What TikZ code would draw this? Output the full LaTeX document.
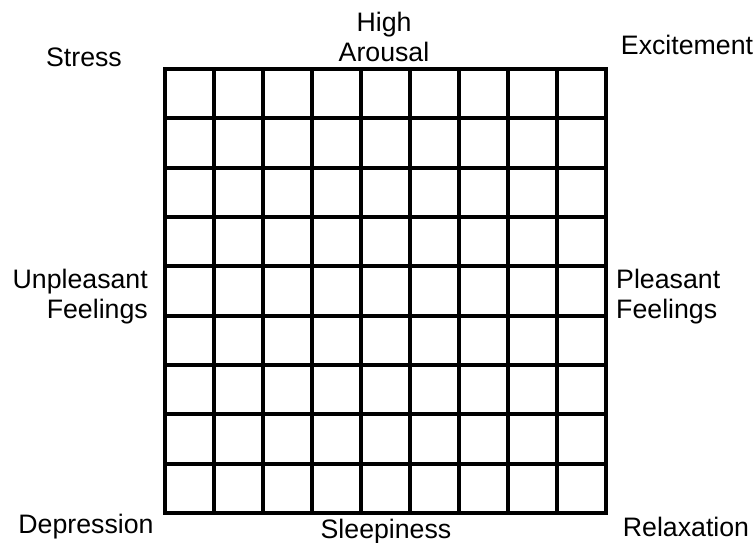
\documentclass[tikz,border=0pt]{standalone}
\usepackage{fontspec}
\setmainfont{Liberation Sans}
\usetikzlibrary{positioning}

\begin{document}
\begin{tikzpicture}[x=0.03cm,y=-0.03cm,
  gridline/.style={draw=black,line width=3.2pt,line cap=rect},
  label/.style={font=\fontsize{22.8}{25.6}\selectfont,inner sep=0pt}]
\useasboundingbox (0,0) rectangle (755,543);
% affect grid, 9 x 9 cells
\coordinate (gnw) at (165,69);
\coordinate (gse) at (606,513);
\foreach \i in {0,...,9} {
  \draw[gridline] ({165+49*\i},69) -- ({165+49*\i},513);
  \draw[gridline] (165,{69+49.33*\i}) -- (606,{69+49.33*\i});
}
% corner and side labels
\node[label] (stress) at (84,57) {Stress};
\node[label,align=center] (arousal) at (384,37) {High\\Arousal};
\node[label] (excite) at (687,45) {Excitement};
\node[label,align=right,anchor=east] (unpleasant) at (148,297) {Unpleasant\\Feelings};
\node[label,align=left,anchor=west] (pleasant) at (616,297) {Pleasant\\Feelings};
\node[label] (depress) at (86,527) {Depression};
\node[label] (sleep) at (386,532) {Sleepiness};
\node[label] (relax) at (686,527) {Relaxation};
\end{tikzpicture}
\end{document}
